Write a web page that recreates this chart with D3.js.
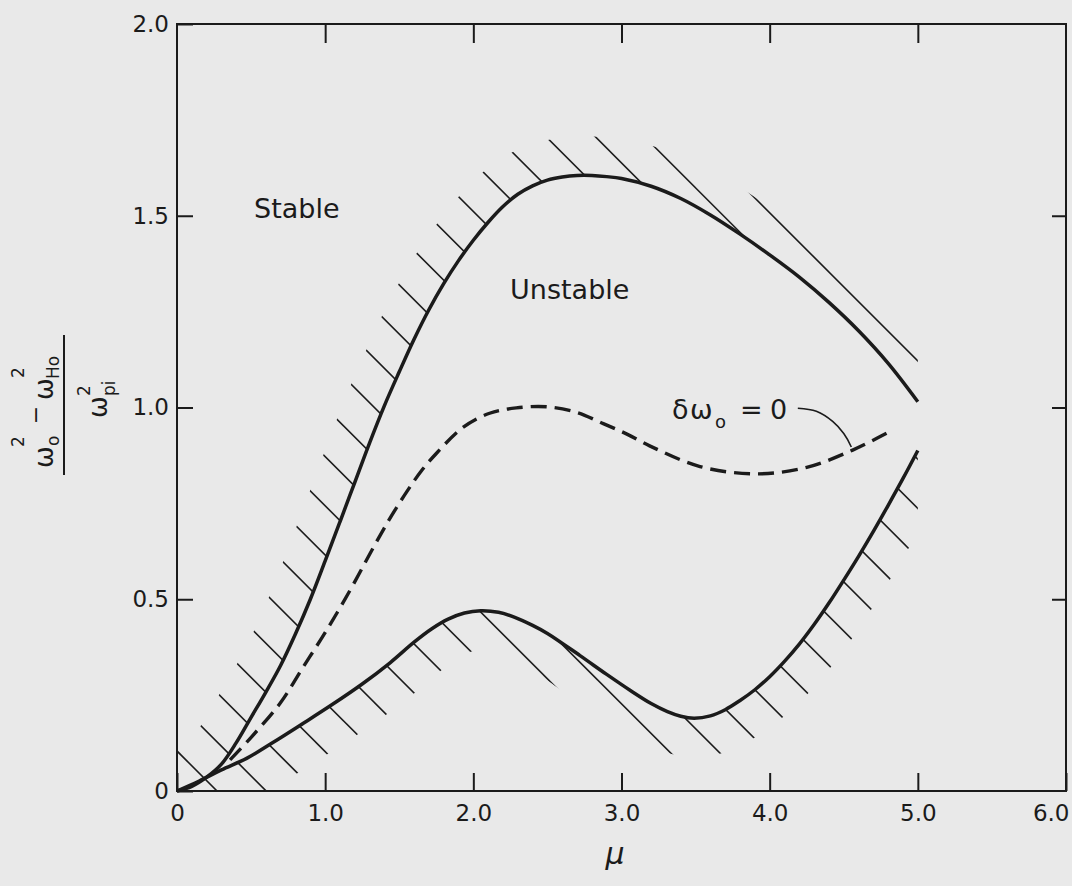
<!DOCTYPE html>
<html><head><meta charset="utf-8">
<script src="https://cdn.jsdelivr.net/npm/d3@7"></script>
<style>body{margin:0;background:#e9e9e9;}svg{display:block}</style>
</head><body>
<svg id="c" width="1072" height="886"></svg>
<script>
// ---------------- data ----------------
const xTicks = [0, 1, 2, 3, 4, 5, 6];
const xTickLabels = ["0", "1.0", "2.0", "3.0", "4.0", "5.0", "6.0"];
const yTicks = [0, 0.5, 1.0, 1.5, 2.0];
const yTickLabels = ["0", "0.5", "1.0", "1.5", "2.0"];

// upper stability boundary (solid)
const upperMu  = [0, 0.1, 0.2, 0.3, 0.4, 0.5, 0.6, 0.7, 0.8, 0.9, 1.0, 1.1, 1.2, 1.3, 1.4, 1.5, 1.6, 1.7, 1.8, 1.9, 2.0, 2.1, 2.2, 2.3, 2.4, 2.5, 2.6, 2.7, 2.8, 2.9, 3.0, 3.2, 3.4, 3.6, 3.8, 4.0, 4.2, 4.4, 4.6, 4.8, 5.0];
const upperVal = [0, 0.012, 0.036, 0.070, 0.126, 0.192, 0.258, 0.328, 0.410, 0.500, 0.600, 0.702, 0.805, 0.908, 1.005, 1.093, 1.178, 1.255, 1.323, 1.383, 1.436, 1.483, 1.524, 1.556, 1.578, 1.593, 1.601, 1.605, 1.605, 1.602, 1.597, 1.577, 1.545, 1.502, 1.452, 1.398, 1.340, 1.274, 1.200, 1.115, 1.015];

// lower stability boundary (solid)
const lowerMu  = [0, 0.15, 0.3, 0.47, 0.65, 0.85, 1.05, 1.25, 1.44, 1.60, 1.72, 1.83, 1.94, 2.05, 2.17, 2.28, 2.40, 2.50, 2.72, 2.90, 3.06, 3.20, 3.31, 3.40, 3.49, 3.6, 3.7, 3.8, 3.9, 4.0, 4.1, 4.2, 4.3, 4.4, 4.5, 4.6, 4.7, 4.8, 4.9, 5.0];
const lowerVal = [0, 0.026, 0.055, 0.085, 0.127, 0.176, 0.226, 0.279, 0.335, 0.388, 0.423, 0.448, 0.464, 0.470, 0.466, 0.453, 0.432, 0.411, 0.353, 0.304, 0.262, 0.228, 0.207, 0.195, 0.190, 0.196, 0.212, 0.236, 0.264, 0.298, 0.338, 0.383, 0.434, 0.490, 0.550, 0.612, 0.677, 0.745, 0.815, 0.888];

// delta omega_0 = 0 (dashed)
const dashMu  = [0.358, 0.505, 0.696, 0.853, 1.011, 1.169, 1.304, 1.428, 1.55, 1.65, 1.75, 1.93, 2.11, 2.29, 2.495, 2.70, 2.877, 3.04, 3.19, 3.53, 3.91, 4.25, 4.56, 4.81];
const dashVal = [0.081, 0.142, 0.229, 0.324, 0.420, 0.524, 0.620, 0.705, 0.780, 0.835, 0.880, 0.948, 0.985, 0.999, 1.002, 0.987, 0.958, 0.930, 0.900, 0.846, 0.827, 0.844, 0.889, 0.937];

// leader line from the label to the dashed curve
const leaderMu  = [4.19, 4.315, 4.427, 4.50, 4.551];
const leaderVal = [0.998, 0.990, 0.963, 0.932, 0.897];

// ---------------- layout / style ----------------
const W = 1072, H = 886;
const INK = "#1b1b1b";
const FONT = "'DejaVu Sans', 'Noto Sans', sans-serif";
const BAND = 39;              // hatch length measured from the curve
const HATCH_STEP = 49.17;     // vertical spacing of the 45° hatch lines
const HATCH_PHASE = 574;      // y - x of the first hatch line

const x = d3.scaleLinear().domain([0, 6]).range([177, 1066]);
const y = d3.scaleLinear().domain([0, 2]).range([791, 24]);

const svg = d3.select("#c");
svg.append("rect").attr("width", W).attr("height", H).attr("fill", "#e9e9e9");
const defs = svg.append("defs");

const line = d3.line().x(d => x(d[0])).y(d => y(d[1])).curve(d3.curveCatmullRom.alpha(0.5));
const upper = d3.zip(upperMu, upperVal);
const lower = d3.zip(lowerMu, lowerVal);
const dashed = d3.zip(dashMu, dashVal);
const leader = d3.zip(leaderMu, leaderVal);
const upperD = line(upper), lowerD = line(lower);

const x0 = x(0), y0 = y(0), yTop = y(2), xR = x(6);
const xEndU = x(upperMu[upperMu.length - 1]);
const xEndL = x(lowerMu[lowerMu.length - 1]);

// stable sides of each boundary
defs.append("clipPath").attr("id", "upSide").append("path")
  .attr("d", upperD + `L${xEndU},${-300}L${x0 - 300},${-300}L${x0 - 300},${y0}Z`);
defs.append("clipPath").attr("id", "loSide").append("path")
  .attr("d", lowerD + `L${xEndL},${H + 300}L${x0 - 300},${H + 300}L${x0 - 300},${y0}Z`);
defs.append("clipPath").attr("id", "hatchArea").append("rect")
  .attr("x", x0).attr("y", yTop).attr("width", Math.max(xEndU, xEndL) + 3 - x0).attr("height", y0 - yTop);

const mask = defs.append("mask").attr("id", "band").attr("maskUnits", "userSpaceOnUse")
  .attr("x", 0).attr("y", 0).attr("width", W).attr("height", H);
mask.append("g").attr("clip-path", "url(#upSide)").append("path").attr("d", upperD)
  .attr("fill", "none").attr("stroke", "#fff").attr("stroke-width", 2 * BAND)
  .attr("stroke-linejoin", "round").attr("stroke-linecap", "round");
mask.append("g").attr("clip-path", "url(#loSide)").append("path").attr("d", lowerD)
  .attr("fill", "none").attr("stroke", "#fff").attr("stroke-width", 2 * BAND)
  .attr("stroke-linejoin", "round").attr("stroke-linecap", "round");

// hatching
const hatchC = d3.range(HATCH_PHASE, -W, -HATCH_STEP);
svg.append("g").attr("clip-path", "url(#hatchArea)")
  .append("g").attr("mask", "url(#band)")
  .selectAll("line").data(hatchC).join("line")
  .attr("x1", x0 - 60).attr("y1", c => x0 - 60 + c)
  .attr("x2", W).attr("y2", c => W + c)
  .attr("stroke", INK).attr("stroke-width", 1.6);

// curves
svg.append("path").attr("d", upperD).attr("fill", "none").attr("stroke", INK).attr("stroke-width", 3.5);
svg.append("path").attr("d", lowerD).attr("fill", "none").attr("stroke", INK).attr("stroke-width", 3.5);
svg.append("path").attr("d", line(dashed)).attr("fill", "none").attr("stroke", INK)
  .attr("stroke-width", 3.4).attr("stroke-dasharray", "16,8");
svg.append("path").attr("d", line(leader)).attr("fill", "none").attr("stroke", INK).attr("stroke-width", 1.6);

// frame
svg.append("rect").attr("x", x0).attr("y", yTop).attr("width", xR - x0).attr("height", y0 - yTop)
  .attr("fill", "none").attr("stroke", INK).attr("stroke-width", 2);

// axes
function styleAxis(g) {
  g.select(".domain").remove();
  g.selectAll(".tick line").attr("stroke", INK).attr("stroke-width", 2);
  g.attr("font-family", FONT).attr("font-size", 23);
  g.selectAll(".tick text").attr("fill", INK);
}
const gx = svg.append("g").attr("transform", `translate(0,${y0})`)
  .call(d3.axisBottom(x).tickValues(xTicks).tickSize(-18).tickPadding(14).tickFormat((d, i) => xTickLabels[i]));
styleAxis(gx);
gx.selectAll(".tick").filter(d => d === 6).select("text").attr("text-anchor", "end").attr("x", 3);

const gy = svg.append("g").attr("transform", `translate(${x0},0)`)
  .call(d3.axisLeft(y).tickValues(yTicks).tickSize(-16).tickPadding(8).tickFormat((d, i) => yTickLabels[i]));
styleAxis(gy);

const gt = svg.append("g").attr("transform", `translate(0,${yTop})`)
  .call(d3.axisTop(x).tickValues(xTicks.slice(1, -1)).tickSize(-19).tickFormat(""));
styleAxis(gt);
const gr = svg.append("g").attr("transform", `translate(${xR},0)`)
  .call(d3.axisRight(y).tickValues(yTicks.slice(1, -1)).tickSize(-14).tickFormat(""));
styleAxis(gr);

// region labels
const lab = svg.append("g").attr("font-family", FONT).attr("fill", INK);
lab.append("text").attr("x", x(0.52)).attr("y", y(1.494)).attr("font-size", 27).text("Stable");
lab.append("text").attr("x", x(2.248)).attr("y", y(1.283)).attr("font-size", 27).text("Unstable");

// delta omega_0 = 0
const dx0 = x(3.34), dy0 = y(0.970);
const dl = lab.append("text").attr("y", dy0).attr("font-size", 27);
dl.append("tspan").attr("x", dx0).text("δ");
dl.append("tspan").attr("x", dx0 + 18).text("ω");
dl.append("tspan").attr("x", dx0 + 43).attr("dy", 9).attr("font-size", 18).text("o");
dl.append("tspan").attr("x", dx0 + 68).attr("dy", -9).text("=");
dl.append("tspan").attr("x", dx0 + 98).text("0");

// axis titles
lab.append("text").attr("x", 615).attr("y", 864).attr("text-anchor", "middle")
  .attr("font-size", 30).attr("font-style", "italic").text("μ");

const yl = svg.append("g").attr("transform", "translate(64,405) rotate(-90)")
  .attr("font-family", FONT).attr("fill", INK);
yl.append("line").attr("x1", -70).attr("x2", 70).attr("y1", 0).attr("y2", 0)
  .attr("stroke", INK).attr("stroke-width", 2);
const T = (s, u, v, fs, anchor) => yl.append("text").attr("x", u).attr("y", v)
  .attr("font-size", fs).attr("text-anchor", anchor || "start").text(s);
T("ω", -63, -11, 26);
T("2", -42, -40, 17);
T("o", -41, -5, 17);
T("−", -10, -21, 22, "middle");
T("ω", 5, -11, 26);
T("2", 27, -40, 17);
T("Ho", 26, -5, 17);
T("ω", -13, 43, 26);
T("2", 9, 26, 17);
T("pi", 9, 51, 17);
</script>
</body></html>
